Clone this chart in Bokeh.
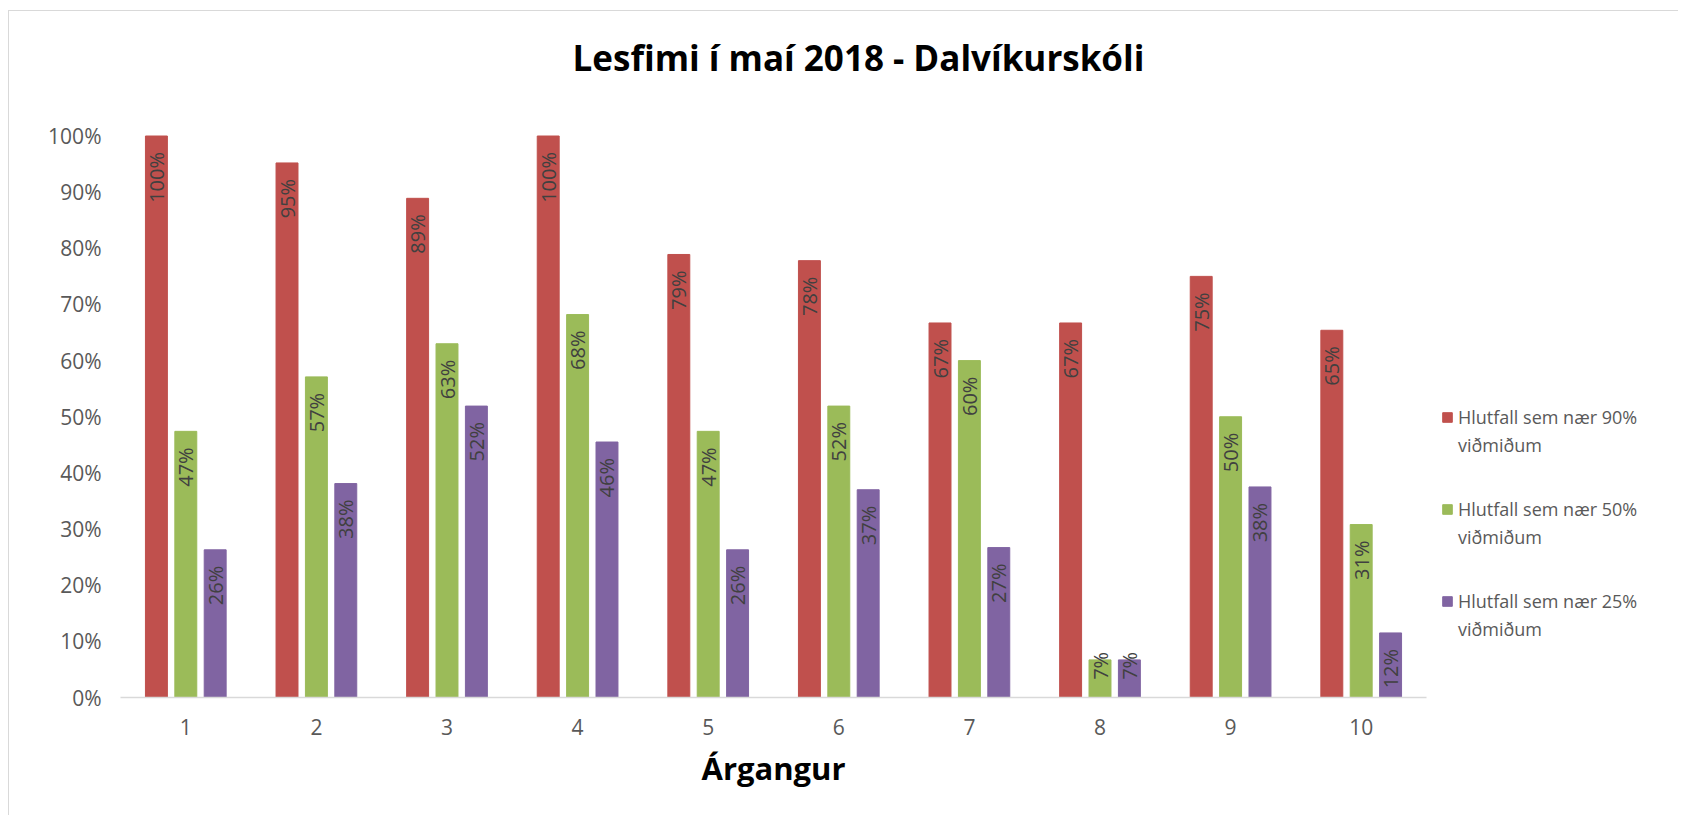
from math import pi
from bokeh.plotting import figure
from bokeh.models import (Legend, LegendItem, Label, Title, NumeralTickFormatter,
                          FixedTicker, Range1d, ColumnDataSource)
from bokeh.transform import dodge
from bokeh.core.properties import value
from bokeh.embed import file_html
from bokeh.resources import INLINE

# ---- data ----
categories = [1, 2, 3, 4, 5, 6, 7, 8, 9, 10]
series_first_lines = ["Hlutfall sem nær 90%",
                      "Hlutfall sem nær 50%",
                      "Hlutfall sem nær 25%"]
series_second_line = "viðmiðum"
pct90 = [1.000, 0.952, 0.889, 1.000, 0.789, 0.778, 0.667, 0.667, 0.750, 0.654]
pct50 = [0.474, 0.571, 0.630, 0.682, 0.474, 0.519, 0.600, 0.067, 0.500, 0.308]
pct25 = [0.263, 0.381, 0.519, 0.455, 0.263, 0.370, 0.267, 0.067, 0.375, 0.115]
y_ticks = [0.0, 0.1, 0.2, 0.3, 0.4, 0.5, 0.6, 0.7, 0.8, 0.9, 1.0]
title_text = "Lesfimi í maí 2018 - Dalvíkurskóli"
x_title = "Árgangur"

# ---- styling / layout constants ----
colors = ["#C0504D", "#9BBB59", "#8064A2"]
offsets = [-0.225, 0.0, 0.225]
FONT = "Open Sans"
W, H = 1670, 805
MB_LEFT, MB_BOTTOM = 111, 119
PX_PER_CAT = 130.6      # pixels per category slot
PX_PER_UNIT = 561.5     # pixels for 100 %

frame_w = W - MB_LEFT
frame_h = H - MB_BOTTOM
x_start = min(categories) - 0.5
x_end = x_start + frame_w / PX_PER_CAT
y_end = frame_h / PX_PER_UNIT

p = figure(width=W, height=H, output_backend="svg", toolbar_location=None,
           x_range=Range1d(x_start, x_end), y_range=Range1d(0, y_end),
           min_border_left=MB_LEFT, min_border_right=0,
           min_border_top=0, min_border_bottom=MB_BOTTOM)
p.outline_line_color = None
p.xgrid.visible = False
p.ygrid.visible = False
p.background_fill_color = "white"
p.border_fill_color = "white"
p.styles = {"margin-left": "8px", "margin-top": "10px",
            "border-top": "1.5px solid #d9d9d9", "border-left": "1.5px solid #d9d9d9"}

# y axis
p.yaxis.ticker = FixedTicker(ticks=y_ticks)
p.yaxis.formatter = NumeralTickFormatter(format="0%")
p.yaxis.axis_line_color = None
p.yaxis.major_tick_line_color = None
p.yaxis.minor_tick_line_color = None
p.yaxis.major_label_text_font = FONT
p.yaxis.major_label_text_font_size = "21px"
p.yaxis.major_label_text_color = "#595959"
p.yaxis.major_label_standoff = 13

# x axis
p.xaxis.ticker = FixedTicker(ticks=categories)
p.xaxis.bounds = (min(categories) - 0.5, max(categories) + 0.5)
p.xaxis.axis_line_color = "#d9d9d9"
p.xaxis.axis_line_width = 1.5
p.xaxis.major_tick_line_color = None
p.xaxis.minor_tick_line_color = None
p.xaxis.major_label_text_font = FONT
p.xaxis.major_label_text_font_size = "21px"
p.xaxis.major_label_text_color = "#595959"
p.xaxis.major_label_standoff = 15

bar_renderers = []
for vals, col, off in zip([pct90, pct50, pct25], colors, offsets):
    src = ColumnDataSource(dict(
        cat=categories,
        val=vals,
        lbl=[f"{round(v * 100)}%" for v in vals],
        ly=[v - 16 / PX_PER_UNIT if v >= 0.1 else v + 8 / PX_PER_UNIT for v in vals],
    ))
    r = p.vbar(x=dodge("cat", off, range=p.x_range), top="val", width=0.168,
               source=src, fill_color=col, line_color=col)
    p.text(x=dodge("cat", off, range=p.x_range), y="ly", text="lbl", source=src,
           angle=pi / 2, text_align="right", text_baseline="middle",
           text_font=value(FONT), text_font_size="20px", text_color="#404040")
    bar_renderers.append(r)

# invisible renderer used for the second (glyph-less) legend line
blank = p.vbar(x=[], top=[], width=0.1, fill_alpha=0, line_alpha=0)

LEG_X = 1321            # px from frame left
LEG_FIRST_BOTTOM = 240  # px from frame bottom for the first legend block
LEG_PITCH = 92          # px between legend blocks
for k, (name, r) in enumerate(zip(series_first_lines, bar_renderers)):
    leg = Legend(items=[LegendItem(label=name, renderers=[r]),
                        LegendItem(label=series_second_line, renderers=[blank])],
                 location=(LEG_X, LEG_FIRST_BOTTOM - k * LEG_PITCH),
                 border_line_color=None, background_fill_alpha=0,
                 padding=0, margin=0, spacing=4, label_height=24,
                 glyph_width=12, glyph_height=12, label_standoff=5,
                 label_text_font=FONT, label_text_font_size="18px",
                 label_text_color="#595959")
    p.add_layout(leg)

title = Label(x=738, y=640, x_units="screen", y_units="screen", text=title_text,
              text_align="center", text_baseline="middle", text_font=FONT,
              text_font_style="bold", text_font_size="35px", text_color="black")
p.add_layout(title)

xlab_kw = dict(text=x_title, align="left", offset=581, text_font=FONT,
               text_font_style="bold", text_font_size="31px", text_color="black")
if hasattr(Title, "standoff"):
    xlab_kw["standoff"] = 14
p.add_layout(Title(**xlab_kw), "below")

open("out.html", "w").write(file_html(p, INLINE))
